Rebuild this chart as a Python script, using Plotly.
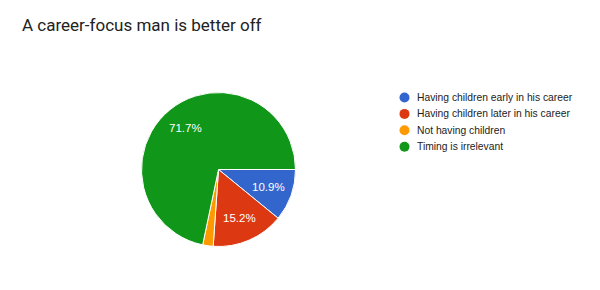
import numpy as np
import plotly.graph_objects as go

title = "A career-focus man is better off"
labels = ["Having children early in his career", "Having children later in his career",
          "Not having children", "Timing is irrelevant"]
values = [10.9, 15.2, 2.2, 71.7]
colors = ["#3366cc", "#dc3912", "#ff9900", "#109618"]

W, H = 600, 290
cx, cy, r = 218.5, 169.5, 77
FONT = "Arial, Liberation Sans, sans-serif"

fig = go.Figure()
fig.add_trace(go.Pie(
    labels=labels, values=values, sort=False, direction="clockwise", rotation=90,
    marker=dict(colors=colors, line=dict(color="white", width=1)),
    textinfo="none", showlegend=False, hoverinfo="label+percent",
    domain=dict(x=[(cx - r) / W, (cx + r) / W], y=[1 - (cy + r) / H, 1 - (cy - r) / H]),
))

# slice labels at mid-angles (clockwise from 3 o'clock)
vals = np.array(values)
frac = vals / vals.sum()
mid = (np.cumsum(frac) - frac / 2) * 2 * np.pi
lx = cx + 0.69 * r * np.cos(mid)
ly = cy + 0.69 * r * np.sin(mid)
for i, v in enumerate(values):
    if frac[i] < 0.05:
        continue
    fig.add_annotation(x=lx[i], y=ly[i], xref="x", yref="y", text=f"{v:.1f}%",
                       showarrow=False, font=dict(family=FONT, size=11.5, color="white"))

# legend
ys = [97.5 + 16.4 * i for i in range(len(labels))]
fig.add_trace(go.Scatter(
    x=[404.5] * len(labels), y=ys, mode="markers",
    marker=dict(symbol="circle", size=10, color=colors, line=dict(width=0)),
    showlegend=False, hoverinfo="skip",
))
for lab, yy in zip(labels, ys):
    fig.add_annotation(x=415, y=yy, xref="x", yref="y", text=lab, xanchor="left",
                       yanchor="middle", showarrow=False,
                       font=dict(family=FONT, size=10.3, color="#222"))

fig.update_layout(
    width=W, height=H, margin=dict(l=0, r=0, t=0, b=0),
    paper_bgcolor="white", plot_bgcolor="rgba(0,0,0,0)",
    title=dict(text=title, x=22 / W, xanchor="left", y=1 - 25 / H, yanchor="middle",
               font=dict(family="Roboto, Arial", size=17, color="#222")),
    xaxis=dict(visible=False, range=[0, W], domain=[0, 1], fixedrange=True),
    yaxis=dict(visible=False, range=[H, 0], domain=[0, 1], fixedrange=True),
    showlegend=False,
)
fig.write_html("out.html")
